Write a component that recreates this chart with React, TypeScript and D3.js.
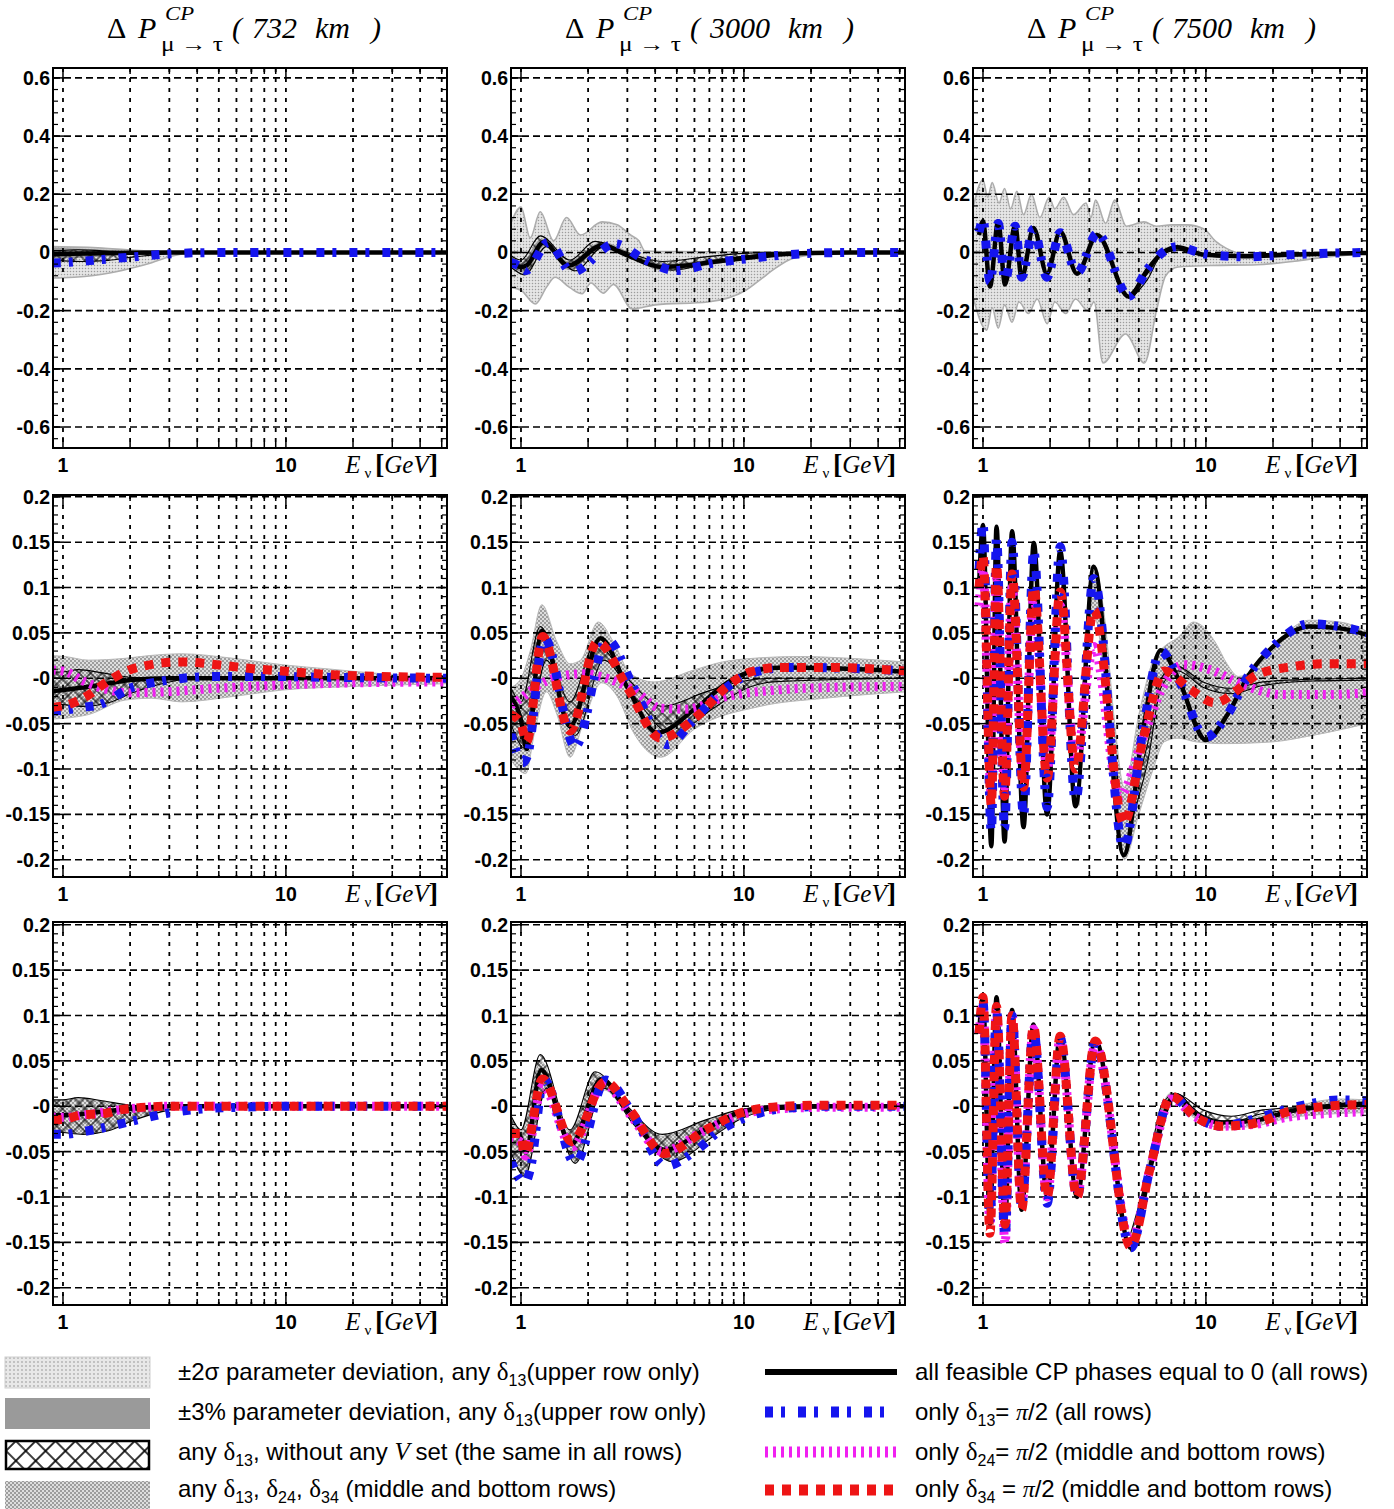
import React from "react";
import * as d3 from "d3";

type Pt = [number, number];

// x: neutrino energy E (GeV), y: ΔP^CP(μ→τ)
// ---------- 732 km ----------
const cross732Up: Pt[] = [[0.9, 0.007], [1, 0.007], [1.17, 0.0095], [1.5, 0.006], [2.05, 0.001], [3, 0], [52.8, 0]];
const cross732Lo: Pt[] = [[0.9, -0.028], [1, -0.029], [1.23, -0.031], [1.6, -0.027], [2.05, -0.016], [3, -0.004], [4, 0], [52.8, 0]];
const sig732Up: Pt[] = [[0.9, 0.02], [1.5, 0.015], [2, 0.008], [3, 0.002], [4, 0], [52.8, 0]];
const sig732Lo: Pt[] = [[0.9, -0.088], [1, -0.087], [1.5, -0.075], [2, -0.055], [2.5, -0.035], [3, -0.015], [3.5, -0.004], [4.5, 0], [52.8, 0]];
const pct732Up: Pt[] = [[0.9, 0.016], [1.5, 0.01], [2, 0.004], [3, 0], [52.8, 0]];
const pct732Lo: Pt[] = [[0.9, -0.022], [1.5, -0.015], [2, -0.008], [3, -0.002], [4, 0], [52.8, 0]];
const topBlack732: Pt[] = [[0.9, -0.006], [1, -0.005], [1.5, -0.003], [2, -0.001], [3, 0], [52.8, 0]];
const topBlue732: Pt[] = [[0.9, -0.036], [1, -0.035], [1.5, -0.024], [2, -0.016], [3, -0.005], [4, -0.001], [6, 0], [52.8, 0]];

const midBlack732: Pt[] = [[0.9, -0.014], [1, -0.013], [1.5, -0.007], [2, -0.002], [3, 0], [52.8, 0]];
const midBlue732: Pt[] = [[0.9, -0.036], [1.02, -0.035], [1.23, -0.032], [1.46, -0.029], [2, -0.011], [2.8, -0.003], [4.9, 0.002], [8.5, 0.002], [16, 0.001], [52.8, 0]];
const midMagenta732: Pt[] = [[0.9, 0.009], [1.02, 0.0075], [1.23, -0.003], [1.62, -0.013], [2, -0.016], [2.8, -0.015], [4.9, -0.011], [9.6, -0.0075], [20, -0.005], [52.8, -0.004]];
const midRed732: Pt[] = [[0.9, -0.032], [1.02, -0.03], [1.23, -0.022], [1.62, -0.002], [2, 0.0095], [2.36, 0.014], [2.8, 0.017], [3.44, 0.018], [4.9, 0.015], [6.8, 0.011], [9.6, 0.008], [16, 0.004], [27, 0.002], [52.8, 0.001]];
const midAnyUp732: Pt[] = [[0.9, 0.025], [1.02, 0.024], [1.3, 0.02], [1.9, 0.022], [2.44, 0.025], [3.4, 0.027], [5.8, 0.022], [9.6, 0.015], [16, 0.01], [27, 0.005], [52.8, 0.002]];
const midAnyLo732: Pt[] = [[0.9, -0.045], [1.02, -0.044], [1.3, -0.04], [1.9, -0.024], [2.5, -0.022], [3.4, -0.026], [5.8, -0.02], [9.6, -0.013], [20, -0.009], [52.8, -0.006]];

const botBlack732: Pt[] = [[0.9, -0.01], [1, -0.01], [1.5, -0.006], [2, -0.003], [3, 0], [52.8, 0]];
const botBlue732: Pt[] = [[0.9, -0.031], [1, -0.031], [1.23, -0.028], [1.5, -0.024], [2, -0.017], [2.9, -0.008], [4.2, -0.003], [6.5, -0.001], [10, 0], [52.8, 0]];
const botMagenta732: Pt[] = [[0.9, -0.012], [1, -0.012], [1.3, -0.009], [1.8, -0.004], [3, 0], [52.8, 0]];
const botRed732: Pt[] = [[0.9, -0.015], [1.03, -0.014], [1.2, -0.0095], [1.53, -0.008], [1.8, -0.004], [2.1, -0.002], [3, 0], [52.8, 0]];
const botAnyUp732: Pt[] = [[0.9, 0.006], [1.2, 0.008], [1.6, 0.004], [2.1, 0], [52.8, 0]];
const botAnyLo732: Pt[] = [[0.9, -0.027], [1.23, -0.03], [1.6, -0.026], [2.05, -0.015], [3, -0.004], [4, 0], [52.8, 0]];

// ---------- 3000 km ----------
const cross3000Up: Pt[] = [[0.9, -0.01], [1, -0.026], [1.22, 0.057], [1.66, -0.026], [2.15, 0.038], [3, 0], [4.3, -0.031], [6.75, -0.015], [9.5, -0.004], [13.5, 0], [52.8, 0]];
const cross3000Lo: Pt[] = [[0.9, -0.05], [1.04, -0.077], [1.3, 0.02], [1.75, -0.063], [2.35, 0.02], [3.2, -0.02], [4.77, -0.061], [7.3, -0.033], [9.5, -0.015], [13.5, -0.004], [52.8, 0]];
const sig3000Up: Pt[] = [[0.9, 0.1], [1, 0.156], [1.1, 0.05], [1.22, 0.14], [1.4, 0.04], [1.6, 0.12], [1.85, 0.06], [2.31, 0.105], [2.7, 0.095], [3.1, 0.06], [3.38, 0.04], [3.6, 0.005], [5, 0.003], [14, 0.002], [52.8, 0]];
const sig3000Lo: Pt[] = [[0.9, -0.12], [1, -0.13], [1.16, -0.177], [1.3, -0.12], [1.42, -0.085], [1.65, -0.12], [1.88, -0.142], [2.06, -0.105], [2.34, -0.14], [2.6, -0.11], [3.15, -0.194], [4, -0.18], [6.9, -0.17], [10.2, -0.13], [12, -0.09], [13.5, -0.06], [16, -0.025], [20, -0.008], [25, 0], [52.8, 0]];
const pct3000Up: Pt[] = [[0.9, -0.02], [1, -0.035], [1.24, 0.048], [1.63, -0.03], [2.3, 0.036], [3.2, -0.005], [4.3, -0.038], [7.2, -0.024], [12, -0.005], [20, 0], [52.8, 0]];
const pct3000Lo: Pt[] = [[0.9, -0.045], [1.04, -0.07], [1.28, 0.022], [1.64, -0.06], [2.32, 0.012], [3.2, -0.025], [4.3, -0.062], [7.2, -0.042], [12, -0.014], [20, -0.002], [52.8, 0]];
const topBlack3000: Pt[] = [[0.9, -0.03], [1, -0.05], [1.06, -0.045], [1.26, 0.035], [1.63, -0.045], [2.31, 0.024], [3, -0.01], [4.3, -0.05], [5.5, -0.045], [7.2, -0.033], [10, -0.02], [14.4, -0.007], [20, -0.002], [30, 0], [52.8, 0]];
const topBlue3000: Pt[] = [[0.9, -0.035], [1, -0.05], [1.05, -0.062], [1.33, 0.035], [1.69, -0.068], [2.65, 0.03], [3.5, -0.02], [4.94, -0.062], [7.2, -0.037], [10.2, -0.022], [14.4, -0.01], [20, -0.003], [30, 0], [52.8, 0]];

const midBlack3000: Pt[] = [[0.9, -0.02], [1, -0.046], [1.06, -0.078], [1.24, 0.052], [1.66, -0.053], [2.27, 0.044], [3, -0.01], [4.08, -0.06], [5.95, -0.035], [8.4, -0.005], [11, 0.008], [15, 0.012], [25, 0.011], [40, 0.009], [52.8, 0.007]];
const midBlue3000: Pt[] = [[0.9, -0.06], [1.02, -0.093], [1.07, -0.085], [1.27, 0.045], [1.75, -0.075], [2.43, 0.043], [3.2, -0.01], [4.53, -0.073], [6, -0.045], [7.9, -0.015], [11.7, 0.008], [16, 0.012], [30, 0.011], [52.8, 0.008]];
const midMagenta3000: Pt[] = [[0.9, -0.03], [1, -0.022], [1.25, -0.005], [1.66, 0.004], [1.9, 0.005], [2.27, 0.002], [3.2, -0.013], [4.23, -0.033], [5.5, -0.034], [8.4, -0.02], [14, -0.013], [25, -0.01], [52.8, -0.009]];
const midRed3000: Pt[] = [[0.9, -0.04], [1, -0.05], [1.06, -0.07], [1.25, 0.046], [1.66, -0.058], [2.2, 0.04], [3, -0.01], [4.23, -0.066], [6.15, -0.042], [8.4, -0.009], [10.7, 0.007], [14.7, 0.012], [25, 0.012], [40, 0.01], [52.8, 0.008]];
const midAnyUp3000: Pt[] = [[0.9, -0.01], [1, 0], [1.1, 0.03], [1.24, 0.081], [1.45, 0.04], [1.66, 0.016], [1.85, 0.02], [2.22, 0.062], [2.6, 0.04], [3.1, 0.005], [3.95, -0.004], [5.95, 0.009], [8, 0.018], [11, 0.022], [18, 0.024], [30, 0.022], [52.8, 0.018]];
const midAnyLo3000: Pt[] = [[0.9, -0.09], [1.05, -0.105], [1.15, -0.06], [1.3, -0.015], [1.45, -0.04], [1.66, -0.087], [1.9, -0.05], [2.3, -0.005], [2.7, -0.02], [3.2, -0.06], [4.23, -0.087], [6, -0.056], [11.8, -0.031], [23, -0.022], [52.8, -0.015]];

const botBlack3000: Pt[] = [[0.9, -0.025], [1, -0.035], [1.05, -0.05], [1.23, 0.04], [1.68, -0.042], [2.3, 0.03], [3, -0.005], [4.4, -0.048], [6.75, -0.025], [9.5, -0.007], [13.5, -0.001], [20, 0], [52.8, 0]];
const botBlue3000: Pt[] = [[0.9, -0.06], [1.04, -0.085], [1.1, -0.07], [1.27, 0.029], [1.75, -0.063], [2.4, 0.029], [3.2, -0.01], [4.45, -0.066], [6, -0.05], [7.9, -0.026], [11.2, -0.009], [15.8, -0.002], [25, 0], [52.8, 0]];
const botMagenta3000: Pt[] = [[0.9, -0.035], [1, -0.04], [1.05, -0.055], [1.25, 0.022], [1.7, -0.045], [2.35, 0.025], [3.1, -0.01], [4.3, -0.05], [6.5, -0.028], [9.5, -0.01], [14, -0.003], [25, -0.001], [52.8, -0.001]];
const botRed3000: Pt[] = [[0.9, -0.03], [0.99, -0.03], [1.04, -0.052], [1.25, 0.03], [1.69, -0.039], [2.39, 0.027], [3.1, -0.005], [4.4, -0.052], [6.75, -0.026], [9.5, -0.008], [13.5, -0.001], [20, 0.001], [52.8, 0.001]];
const botAnyUp3000: Pt[] = [[0.9, -0.012], [1, -0.028], [1.22, 0.05], [1.66, -0.028], [2.2, 0.035], [3, -0.002], [4.3, -0.033], [6.75, -0.016], [9.5, -0.005], [13.5, 0], [52.8, 0]];
const botAnyLo3000: Pt[] = [[0.9, -0.05], [1.04, -0.075], [1.3, 0.018], [1.75, -0.06], [2.35, 0.018], [3.2, -0.02], [4.77, -0.06], [7.3, -0.032], [9.5, -0.015], [13.5, -0.004], [52.8, 0]];

// ---------- 7500 km ----------
const cross7500Up: Pt[] = [[4.6, -0.14], [5.5, -0.07], [6.3, 0], [7.3, 0.014], [9.7, -0.004], [13, -0.011], [18, -0.004], [30, -0.001], [52.8, 0]];
const cross7500Lo: Pt[] = [[4.6, -0.16], [5.5, -0.09], [6.3, -0.01], [7.5, 0.008], [9.7, -0.01], [13, -0.017], [18, -0.008], [30, -0.003], [52.8, -0.002]];
const sig7500Up: Pt[] = [[0.9, 0.15], [1, 0.25], [1.05, 0.19], [1.1, 0.24], [1.18, 0.17], [1.25, 0.22], [1.33, 0.15], [1.42, 0.21], [1.52, 0.13], [1.65, 0.2], [1.8, 0.12], [1.98, 0.19], [2.1, 0.15], [2.3, 0.19], [2.55, 0.13], [2.9, 0.17], [3.05, 0.12], [3.2, 0.18], [3.55, 0.1], [3.9, 0.18], [4.4, 0.09], [5.27, 0.105], [6, 0.09], [7, 0.095], [8.2, 0.095], [9.85, 0.08], [11, 0.04], [12.3, 0.015], [15, -0.005], [25, -0.005], [52.8, 0]];
const sig7500Lo: Pt[] = [[0.9, -0.15], [1.04, -0.267], [1.1, -0.19], [1.17, -0.26], [1.25, -0.18], [1.35, -0.24], [1.45, -0.17], [1.6, -0.21], [1.75, -0.16], [1.94, -0.245], [2.1, -0.17], [2.35, -0.21], [2.6, -0.16], [2.95, -0.2], [3.15, -0.17], [3.45, -0.38], [4.36, -0.28], [5.3, -0.38], [6, -0.2], [6.6, -0.08], [7.5, -0.05], [10.5, -0.045], [17, -0.042], [25, -0.03], [35, -0.015], [52.8, -0.005]];
const topBlack7500: Pt[] = [[0.96, 0.06], [1, 0.107], [1.075, -0.117], [1.17, 0.107], [1.256, -0.11], [1.394, 0.095], [1.49, -0.088], [1.685, 0.084], [1.936, -0.073], [2.22, 0.072], [2.64, -0.073], [3.25, 0.06], [4.51, -0.152], [5.46, -0.06], [6.4, 0], [7.45, 0.018], [9.85, -0.008], [14.9, -0.013], [23.3, -0.008], [35, -0.004], [52.8, -0.002]];
const topBlue7500: Pt[] = [[0.96, 0.07], [1, 0.11], [1.075, -0.1], [1.17, 0.1], [1.256, -0.1], [1.394, 0.09], [1.49, -0.085], [1.685, 0.08], [1.936, -0.085], [2.22, 0.068], [2.64, -0.07], [3.25, 0.065], [4.51, -0.15], [5.46, -0.058], [6.4, 0], [7.45, 0.02], [9.85, -0.005], [14.9, -0.015], [23.3, -0.008], [35, -0.003], [52.8, 0]];

const midBlack7500: Pt[] = [[0.96, 0.1], [1, 0.169], [1.09, -0.185], [1.15, 0.167], [1.25, -0.18], [1.35, 0.162], [1.52, -0.164], [1.69, 0.149], [1.94, -0.15], [2.22, 0.14], [2.6, -0.141], [3.14, 0.123], [4.28, -0.195], [5.2, -0.06], [6.27, 0.031], [7.5, 0], [10, -0.068], [12.5, -0.04], [15.6, 0.004], [20, 0.035], [29.2, 0.057], [40, 0.055], [52.8, 0.048]];
const midBlue7500: Pt[] = [[0.96, 0.12], [1, 0.17], [1.09, -0.17], [1.15, 0.155], [1.25, -0.165], [1.35, 0.15], [1.52, -0.15], [1.69, 0.14], [1.94, -0.142], [2.22, 0.145], [2.6, -0.135], [3.14, 0.11], [4.28, -0.187], [5.2, -0.06], [6.27, 0.03], [7.5, 0], [10, -0.065], [12.5, -0.04], [15.6, 0.004], [20, 0.035], [29.2, 0.06], [40, 0.057], [52.8, 0.05]];
const midMagenta7500: Pt[] = [[0.96, 0.08], [1, 0.12], [1.09, -0.13], [1.15, 0.11], [1.25, -0.12], [1.35, 0.1], [1.52, -0.11], [1.69, 0.09], [1.94, -0.1], [2.22, 0.08], [2.6, -0.09], [3.14, 0.035], [4.1, -0.13], [5.18, -0.068], [6.4, -0.01], [7.9, 0.015], [10.6, 0.009], [14, -0.005], [22, -0.018], [35, -0.018], [52.8, -0.016]];
const midRed7500: Pt[] = [[0.96, 0.1], [1, 0.135], [1.09, -0.14], [1.15, 0.125], [1.25, -0.13], [1.35, 0.115], [1.52, -0.12], [1.69, 0.1], [1.94, -0.11], [2.22, 0.095], [2.6, -0.1], [3.14, 0.075], [4.28, -0.16], [5.2, -0.07], [6.5, 0.008], [8.5, -0.012], [11, -0.027], [14, -0.012], [17, 0.004], [24.7, 0.013], [35, 0.016], [52.8, 0.016]];
const midAnyUp7500: Pt[] = [[2.7, -0.1], [3.14, 0.125], [3.5, 0.07], [3.9, -0.05], [4.3, -0.12], [5, -0.04], [5.8, 0.02], [6.5, 0.035], [7.5, 0.045], [8.8, 0.062], [9.6, 0.058], [11, 0.04], [12.5, 0.015], [14, 0.002], [16, 0.008], [20, 0.035], [29.2, 0.064], [40, 0.062], [52.8, 0.052]];
const midAnyLo7500: Pt[] = [[2.7, -0.14], [3.14, 0.07], [3.5, 0], [3.9, -0.14], [4.3, -0.2], [5, -0.15], [5.8, -0.1], [6.5, -0.07], [7.5, -0.066], [9, -0.07], [12, -0.072], [20, -0.07], [30, -0.063], [52.8, -0.05]];

const botBlack7500: Pt[] = [[0.96, 0.08], [1, 0.12], [1.075, -0.13], [1.15, 0.12], [1.256, -0.13], [1.35, 0.106], [1.49, -0.114], [1.685, 0.09], [1.94, -0.1], [2.22, 0.079], [2.64, -0.1], [3.19, 0.073], [4.6, -0.156], [5.6, -0.07], [7.3, 0.0125], [9, -0.008], [11.7, -0.018], [16.5, -0.016], [23.4, -0.006], [35, 0], [52.8, 0.003]];
const botBlue7500: Pt[] = [[0.96, 0.08], [1, 0.115], [1.075, -0.125], [1.15, 0.105], [1.256, -0.145], [1.35, 0.1], [1.49, -0.11], [1.685, 0.085], [1.94, -0.107], [2.22, 0.075], [2.64, -0.1], [3.19, 0.07], [4.6, -0.156], [5.6, -0.07], [7, 0.011], [9, -0.012], [11.7, -0.022], [16.5, -0.014], [23.4, -0.003], [40, 0.007], [52.8, 0.006]];
const botMagenta7500: Pt[] = [[0.96, 0.08], [1, 0.11], [1.075, -0.13], [1.15, 0.105], [1.256, -0.151], [1.35, 0.1], [1.49, -0.11], [1.685, 0.085], [1.94, -0.1], [2.22, 0.075], [2.64, -0.098], [3.19, 0.068], [4.6, -0.15], [5.6, -0.07], [7, 0.008], [9, -0.012], [11.7, -0.022], [16.5, -0.02], [23.4, -0.012], [35, -0.008], [52.8, -0.006]];
const botRed7500: Pt[] = [[0.96, 0.08], [1, 0.12], [1.075, -0.14], [1.15, 0.11], [1.256, -0.13], [1.35, 0.1], [1.49, -0.114], [1.685, 0.088], [1.94, -0.1], [2.22, 0.077], [2.64, -0.1], [3.19, 0.072], [4.6, -0.155], [5.6, -0.07], [7, 0.011], [9, -0.012], [11.7, -0.022], [16.5, -0.019], [23.4, -0.006], [35, 0], [52.8, 0.002]];
const botAnyUp7500: Pt[] = [[5.5, -0.06], [7, 0.015], [9, -0.006], [11.7, -0.016], [16.5, -0.012], [23.4, -0.002], [40, 0.008], [52.8, 0.007]];
const botAnyLo7500: Pt[] = [[5.5, -0.08], [7, 0.006], [9, -0.014], [11.7, -0.024], [16.5, -0.022], [23.4, -0.013], [40, -0.008], [52.8, -0.007]];

// axes
const baselines = ["732", "3000", "7500"];
const xGrid = [1, 2, 3, 4, 5, 6, 7, 8, 9, 10, 20, 30, 40, 50];
const xLabels = [1, 10];
const topTicks = [-0.6, -0.4, -0.2, 0, 0.2, 0.4, 0.6];
const topTickLabels = ["-0.6", "-0.4", "-0.2", "0", "0.2", "0.4", "0.6"];
const lowTicks = [-0.2, -0.15, -0.1, -0.05, 0, 0.05, 0.1, 0.15, 0.2];
const lowTickLabels = ["-0.2", "-0.15", "-0.1", "-0.05", "-0", "0.05", "0.1", "0.15", "0.2"];

const colLeft = [53, 511, 973];
const frameW = 394;
const rowTop = [68, 495, 922];
const rowH = [380, 382, 383];
const xDomain: [number, number] = [0.902, 52.8];
const yDomains: [number, number][] = [[-0.672, 0.634], [-0.219, 0.202], [-0.219, 0.203]];

const panels = [
  { row: 0, col: 0, bands: [["sigma", sig732Up, sig732Lo], ["pct", pct732Up, pct732Lo], ["cross", cross732Up, cross732Lo]], black: topBlack732, blue: topBlue732 },
  { row: 0, col: 1, bands: [["sigma", sig3000Up, sig3000Lo], ["pct", pct3000Up, pct3000Lo], ["cross", cross3000Up, cross3000Lo]], black: topBlack3000, blue: topBlue3000 },
  { row: 0, col: 2, bands: [["sigma", sig7500Up, sig7500Lo], ["cross", cross7500Up, cross7500Lo]], black: topBlack7500, blue: topBlue7500 },
  { row: 1, col: 0, bands: [["any", midAnyUp732, midAnyLo732], ["cross", cross732Up, cross732Lo]], black: midBlack732, blue: midBlue732, magenta: midMagenta732, red: midRed732 },
  { row: 1, col: 1, bands: [["any", midAnyUp3000, midAnyLo3000], ["cross", cross3000Up, cross3000Lo]], black: midBlack3000, blue: midBlue3000, magenta: midMagenta3000, red: midRed3000 },
  { row: 1, col: 2, bands: [["any", midAnyUp7500, midAnyLo7500], ["cross", cross7500Up, cross7500Lo]], black: midBlack7500, blue: midBlue7500, magenta: midMagenta7500, red: midRed7500 },
  { row: 2, col: 0, bands: [["any", botAnyUp732, botAnyLo732], ["cross", cross732Up, cross732Lo]], black: botBlack732, blue: botBlue732, magenta: botMagenta732, red: botRed732 },
  { row: 2, col: 1, bands: [["any", botAnyUp3000, botAnyLo3000], ["cross", cross3000Up, cross3000Lo]], black: botBlack3000, blue: botBlue3000, magenta: botMagenta3000, red: botRed3000 },
  { row: 2, col: 2, bands: [["any", botAnyUp7500, botAnyLo7500], ["cross", cross7500Up, cross7500Lo]], black: botBlack7500, blue: botBlue7500, magenta: botMagenta7500, red: botRed7500 },
];

const bandStyle: any = {
  sigma: { fill: "url(#dots)", stroke: "#adadad", strokeWidth: 1.6 },
  pct: { fill: "#9a9a9a", stroke: "none", strokeWidth: 0 },
  any: { fill: "url(#checker)", stroke: "#b8b8b8", strokeWidth: 1 },
  cross: { fill: "url(#cross)", stroke: "#000", strokeWidth: 1.1 },
};

const lineStyle: any = {
  black: { stroke: "#000", width: 4.5, dash: null },
  magenta: { stroke: "#f020f0", width: 9, dash: "3 5" },
  blue: { stroke: "#1515ee", width: 9, dash: "8 8 4 13" },
  red: { stroke: "#ee1515", width: 9, dash: "9 8" },
};

const sans = "'Liberation Sans', Arial, sans-serif";
const serif = "'Liberation Serif', 'Times New Roman', serif";

const Panel = ({ p, idx }) => {
  const L = colLeft[p.col], T = rowTop[p.row], Hh = rowH[p.row], R = L + frameW, B = T + Hh;
  const x = d3.scaleLog().domain(xDomain).range([L, R]);
  const y = d3.scaleLinear().domain(yDomains[p.row]).range([B, T]);
  const line = d3.line<Pt>().x((d) => x(d[0])).y((d) => y(d[1])).curve(d3.curveMonotoneX);
  const band = (up: Pt[], lo: Pt[]) => line(up) + (line(lo.slice().reverse()) as string).replace(/^M/, "L") + "Z";

  const ticks = p.row === 0 ? topTicks : lowTicks;
  const labels = p.row === 0 ? topTickLabels : lowTickLabels;
  const minorStep = p.row === 0 ? 0.04 : 0.01;
  const [y0, y1] = yDomains[p.row];
  const minors = d3.range(Math.ceil(y0 / minorStep), Math.floor(y1 / minorStep) + 1).map((k) => k * minorStep);

  return (
    <g>
      <clipPath id={`clip${idx}`}>
        <rect x={L} y={T} width={frameW} height={Hh} />
      </clipPath>
      <g clipPath={`url(#clip${idx})`}>
        {p.bands.map(([kind, up, lo], i) => (
          <path key={i} d={band(up, lo)} fill={bandStyle[kind].fill} stroke={bandStyle[kind].stroke} strokeWidth={bandStyle[kind].strokeWidth} />
        ))}
        {ticks.map((t) => (
          <line key={t} x1={L} x2={R} y1={y(t)} y2={y(t)} stroke="#000" strokeWidth={1.6} strokeDasharray="7 4" />
        ))}
        {xGrid.map((v) => (
          <line key={v} x1={x(v)} x2={x(v)} y1={T} y2={B} stroke="#000" strokeWidth={1.8} strokeDasharray="4 6" />
        ))}
        {["black", "magenta", "blue", "red"].map((k) =>
          p[k] ? (
            <path key={k} d={line(p[k]) as string} fill="none" stroke={lineStyle[k].stroke} strokeWidth={lineStyle[k].width} strokeDasharray={lineStyle[k].dash || undefined} />
          ) : null
        )}
      </g>
      {minors.map((v, i) => (
        <g key={i}>
          <line x1={L} x2={L + 5} y1={y(v)} y2={y(v)} stroke="#000" strokeWidth={1.2} />
          <line x1={R - 5} x2={R} y1={y(v)} y2={y(v)} stroke="#000" strokeWidth={1.2} />
        </g>
      ))}
      {ticks.map((t) => (
        <g key={t}>
          <line x1={L} x2={L + 11} y1={y(t)} y2={y(t)} stroke="#000" strokeWidth={1.5} />
          <line x1={R - 11} x2={R} y1={y(t)} y2={y(t)} stroke="#000" strokeWidth={1.5} />
        </g>
      ))}
      {xGrid.map((v) => (
        <g key={v}>
          <line x1={x(v)} x2={x(v)} y1={B} y2={B - (v === 1 || v === 10 ? 11 : 6)} stroke="#000" strokeWidth={1.5} />
          <line x1={x(v)} x2={x(v)} y1={T} y2={T + (v === 1 || v === 10 ? 11 : 6)} stroke="#000" strokeWidth={1.5} />
        </g>
      ))}
      <rect x={L} y={T} width={frameW} height={Hh} fill="none" stroke="#000" strokeWidth={2} />
      {ticks.map((t, i) => (
        <text key={t} x={L - 3} y={y(t)} dy="0.36em" textAnchor="end" fontFamily={sans} fontWeight="bold" fontSize={19.5}>
          {labels[i]}
        </text>
      ))}
      {xLabels.map((v) => (
        <text key={v} x={x(v)} y={B + 24} textAnchor="middle" fontFamily={sans} fontWeight="bold" fontSize={19.5}>
          {v}
        </text>
      ))}
      <text x={R - 9} y={B + 25} textAnchor="end" fontFamily={serif} fontSize={25}>
        <tspan fontStyle="italic">E</tspan>
        <tspan fontSize={15} dy={5}> ν  </tspan>
        <tspan dy={-5} fontWeight="bold" fontSize={28}>[</tspan>
        <tspan fontStyle="italic">GeV</tspan>
        <tspan fontWeight="bold" fontSize={28}>]</tspan>
      </text>
    </g>
  );
};

const Title = ({ col }) => {
  const left = colLeft[col] + frameW / 2 - 143;
  const paren = left + 125;
  const num = paren + 20;
  const km = num + baselines[col].length * 15 + 18;
  const close = km + 36 + 20;
  return (
    <g fontFamily={serif} fontSize={30}>
      <text x={left} y={38}>Δ</text>
      <text x={left + 31} y={38} fontStyle="italic">P</text>
      <text x={left + 58} y={20} fontSize={19} fontStyle="italic" textLength={29} lengthAdjust="spacingAndGlyphs">CP</text>
      <text x={left + 54} y={51} fontSize={20} textLength={62} lengthAdjust="spacingAndGlyphs">μ → τ</text>
      <text x={paren} y={38} fontStyle="italic">(</text>
      <text x={num} y={38} fontStyle="italic">{baselines[col]}</text>
      <text x={km} y={38} fontStyle="italic">km</text>
      <text x={close} y={38} fontStyle="italic">)</text>
    </g>
  );
};

// δ with subscript; the following text goes back to the baseline
const Sub = ({ n, after = "\u200B" }) => (
  <>
    <tspan fontFamily={serif} fontSize={25}>δ</tspan>
    <tspan fontSize={16} dy={6}>{n}</tspan>
    <tspan dy={-6}>{after}</tspan>
  </>
);

const Legend = () => {
  const rows = [1372, 1412, 1452, 1490];
  const lx1 = 765, lx2 = 897;
  return (
    <g fontFamily={sans} fontSize={24}>
      <rect x={5} y={1357} width={145} height={31} fill="url(#dotsLegend)" stroke="#d0d0d0" />
      <rect x={5} y={1398} width={145} height={31} fill="#9a9a9a" />
      <rect x={6} y={1441} width={143} height={28} fill="#fff" />
      <rect x={6} y={1441} width={143} height={28} fill="url(#crossLegend)" stroke="#000" strokeWidth={2.5} />
      <rect x={5} y={1481} width={145} height={28} fill="url(#checker)" />

      <text x={178} y={rows[0] + 8}>
        ±2σ parameter deviation, any  <Sub n="13" after="(upper row only)" />
      </text>
      <text x={178} y={rows[1] + 8}>
        ±3% parameter deviation, any   <Sub n="13" after="(upper row only)" />
      </text>
      <text x={178} y={rows[2] + 8}>
        any <Sub n="13" after=", without any " />
        <tspan fontFamily={serif} fontStyle="italic" fontSize={25}> V </tspan> set (the same in all rows)
      </text>
      <text x={178} y={rows[3] + 7}>
        any <Sub n="13" after=", " />
        <Sub n="24" after=", " />
        <Sub n="34" after=" (middle and bottom rows)" />
      </text>

      <line x1={lx1} x2={lx2} y1={rows[0]} y2={rows[0]} stroke="#000" strokeWidth={6} />
      <line x1={lx1} x2={lx2} y1={rows[1]} y2={rows[1]} stroke={lineStyle.blue.stroke} strokeWidth={11} strokeDasharray={lineStyle.blue.dash} />
      <line x1={lx1} x2={lx2} y1={rows[2]} y2={rows[2]} stroke={lineStyle.magenta.stroke} strokeWidth={11} strokeDasharray={lineStyle.magenta.dash} />
      <line x1={lx1} x2={lx2} y1={rows[3]} y2={rows[3]} stroke={lineStyle.red.stroke} strokeWidth={11} strokeDasharray={lineStyle.red.dash} />

      <text x={915} y={rows[0] + 8}>all feasible CP phases equal to 0 (all rows)</text>
      <text x={915} y={rows[1] + 8}>
        only  <Sub n="13" after="= " />
        <tspan fontFamily={serif} fontStyle="italic">π</tspan>/2 (all rows)
      </text>
      <text x={915} y={rows[2] + 8}>
        only  <Sub n="24" after="= " />
        <tspan fontFamily={serif} fontStyle="italic">π</tspan>/2 (middle and bottom rows)
      </text>
      <text x={915} y={rows[3] + 7}>
        only  <Sub n="34" after=" = " />
        <tspan fontFamily={serif} fontStyle="italic">π</tspan>/2 (middle and bottom rows)
      </text>
    </g>
  );
};

export default function App() {
  return (
    <svg width={1394} height={1509} style={{ display: "block", position: "absolute", left: 0, top: 0, background: "#fff" }}>
      <defs>
        <pattern id="dots" width="3" height="3" patternUnits="userSpaceOnUse">
          <rect width="3" height="3" fill="#e6e6e6" />
          <circle cx="1.5" cy="1.5" r="0.75" fill="#9c9c9c" />
        </pattern>
        <pattern id="dotsLegend" width="4" height="4" patternUnits="userSpaceOnUse">
          <rect width="4" height="4" fill="#e8e8e8" />
          <circle cx="2" cy="2" r="0.9" fill="#b0b0b0" />
        </pattern>
        <pattern id="checker" width="4" height="4" patternUnits="userSpaceOnUse">
          <rect width="4" height="4" fill="#9d9d9d" />
          <rect x="0" y="0" width="2" height="2" fill="#dedede" />
          <rect x="2" y="2" width="2" height="2" fill="#dedede" />
        </pattern>
        <pattern id="cross" width="8" height="8" patternUnits="userSpaceOnUse" patternTransform="rotate(45)">
          <path d="M0 4H8M4 0V8" stroke="#000" strokeWidth="1" />
        </pattern>
        <pattern id="crossLegend" width="14" height="14" patternUnits="userSpaceOnUse" patternTransform="translate(6 1441) rotate(45)">
          <path d="M0 7H14M7 0V14" stroke="#000" strokeWidth="1.6" />
        </pattern>
      </defs>
      <rect width={1394} height={1509} fill="#fff" />
      {[0, 1, 2].map((c) => (
        <Title key={c} col={c} />
      ))}
      {panels.map((p, i) => (
        <Panel key={i} p={p} idx={i} />
      ))}
      <Legend />
    </svg>
  );
}
